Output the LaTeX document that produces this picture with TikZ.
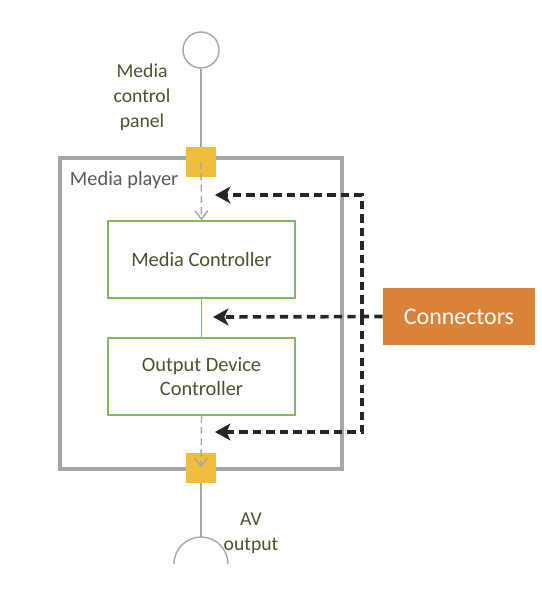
\documentclass[tikz,border=0pt]{standalone}
\usepackage{fontspec}
\setmainfont{Carlito}
\usetikzlibrary{arrows.meta}

\definecolor{framegray}{RGB}{166,166,166}
\definecolor{boxgreen}{RGB}{130,185,90}
\definecolor{textolive}{RGB}{72,84,44}
\definecolor{portyellow}{RGB}{242,190,58}
\definecolor{connorange}{RGB}{217,130,58}

\tikzset{
  port/.style={fill=portyellow,minimum size=0.75cm,inner sep=0pt},
  unitbox/.style={draw=boxgreen,line width=0.9pt,minimum width=4.675cm,minimum height=1.925cm,
    align=center,text=textolive,font=\fontsize{14.5}{17}\selectfont},
  flowline/.style={draw=framegray,line width=1pt},
  flowarrow/.style={flowline,dash pattern=on 5pt off 3pt,-{Straight Barb[length=6pt,width=9pt]}},
  connarrow/.style={line width=2.6pt,black!85,dash pattern=on 6pt off 3.6pt,
    -{Stealth[length=11pt,width=12pt,inset=3pt]}},
  label/.style={text=textolive,align=center,font=\fontsize{14}{17.7}\selectfont}
}

\begin{document}
\begin{tikzpicture}[x=0.025cm,y=-0.025cm]
\useasboundingbox (0,0) rectangle (541,597);

% Player frame
\node[draw=framegray,line width=2.2pt,minimum width=7.05cm,minimum height=7.775cm] (player) at (201,313.5) {};
\node[anchor=west,text=black!65,font=\fontsize{14.5}{17}\selectfont] (playerlabel) at (65,180) {Media player};

% Units
\node[unitbox] (mc) at (201.5,259.5) {Media Controller};
\node[unitbox] (odc) at (201.5,376.5) {Output Device\\Controller};
\draw[boxgreen,line width=0.9pt] (mc) -- (odc);

% Ports
\node[port] (portin) at (201,162) {};
\node[port] (portout) at (201,467.5) {};

% Control panel
\node[draw=framegray,circle,line width=1pt,minimum size=0.9cm] (panel) at (201,50) {};
\node[label] (panellabel) at (142,97) {Media\\control\\panel};
\draw[flowline] (panel) -- (portin);
\draw[flowarrow] (portin.center) -- (mc.north);

% AV output
\coordinate (socket) at (201,537);
\draw[flowline] (socket) arc[start angle=-90,end angle=0,radius=27];
\draw[flowline] (socket) arc[start angle=-90,end angle=-180,radius=27];
\node[label] (socketlabel) at (251,533) {AV\\output};
\draw[flowarrow] (odc.south) -- (portout.center);
\draw[flowline] (portout) -- (socket);

% Connectors
\node[fill=connorange,text=white,minimum width=3.8cm,minimum height=1.425cm,font=\fontsize{17}{20}\selectfont] (conn) at (459,316.5) {Connectors};
\coordinate (tipa) at (215,195);
\coordinate (tipb) at (213,317);
\coordinate (tipc) at (215,432);
\draw[connarrow] (conn.west) -- (tipb);
\draw[connarrow] (362,317) |- (tipa);
\draw[connarrow] (362,317) |- (tipc);
\end{tikzpicture}
\end{document}
